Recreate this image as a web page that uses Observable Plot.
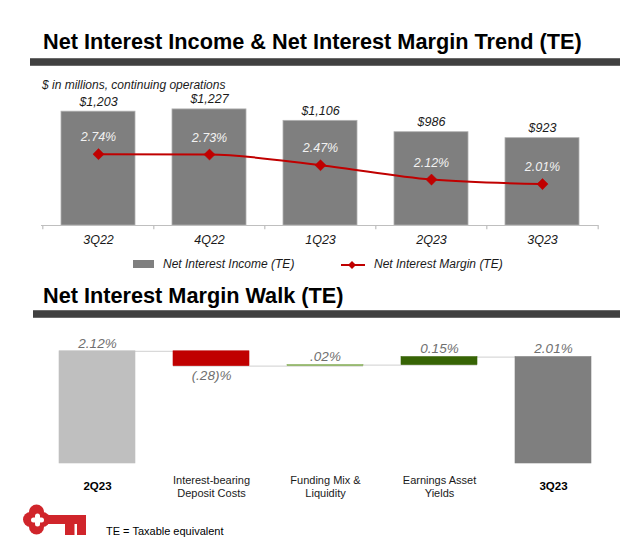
<!DOCTYPE html>
<html>
<head>
<meta charset="utf-8">
<script src="https://cdn.jsdelivr.net/npm/d3@7"></script>
<script src="https://cdn.jsdelivr.net/npm/@observablehq/plot@0.6"></script>
<style>
  html, body { margin: 0; padding: 0; background: #fff; }
  #page { position: relative; width: 640px; height: 553px; overflow: hidden; font-family: "Liberation Sans", Arial, sans-serif; color: #000; }
  .abs { position: absolute; white-space: nowrap; }
  .title { font-weight: bold; font-size: 21.7px; line-height: 24px; }
  .rule { background: #404040; border-top: 1px solid #6a6a6a; border-bottom: 1px solid #6a6a6a; box-sizing: border-box; }
  .it { font-style: italic; font-size: 12px; line-height: 14px; color: #1a1a1a; }
</style>
</head>
<body>
<div id="page">
  <div class="abs title" style="left:43px; top:30px;">Net Interest Income &amp; Net Interest Margin Trend (TE)</div>
  <div class="abs rule" style="left:30px; top:58px; width:590px; height:8px;"></div>
  <div class="abs it" style="left:42px; top:78px;">$ in millions, continuing operations</div>
  <div id="top" class="abs" style="left:0; top:90px;"></div>
  <div class="abs" style="left:133px; top:260px; width:21px; height:8px; background:#7f7f7f;"></div>
  <div class="abs it" style="left:163px; top:257px;">Net Interest Income (TE)</div>
  <svg class="abs" style="left:338px; top:258px;" width="30" height="14">
    <line x1="3" y1="7" x2="27" y2="7" stroke="#c00000" stroke-width="2"></line>
    <path d="M14,3 L18,7 L14,11 L10,7 Z" fill="#c00000"></path>
  </svg>
  <div class="abs it" style="left:374px; top:257px;">Net Interest Margin (TE)</div>

  <div class="abs title" style="left:43px; top:284px;">Net Interest Margin Walk (TE)</div>
  <div class="abs rule" style="left:33px; top:310px; width:587px; height:8px;"></div>
  <div id="walk" class="abs" style="left:0; top:325px;"></div>

  <svg class="abs" style="left:15px; top:500px;" width="80" height="50">
    <g fill="#d0252b">
      <circle cx="21.5" cy="19.5" r="10"></circle>
      <circle cx="15.5" cy="19.5" r="7.5"></circle>
      <circle cx="27.5" cy="19.5" r="7.5"></circle>
      <circle cx="21.5" cy="12" r="7.5"></circle>
      <circle cx="21.5" cy="27" r="7.5"></circle>
      <rect x="30" y="15" width="41" height="9"></rect>
      <rect x="50" y="23" width="9.5" height="12"></rect>
      <rect x="62" y="23" width="9" height="12"></rect>
    </g>
    <g fill="#fff">
      <rect x="16" y="17.5" width="13" height="5" rx="2.5"></rect>
      <rect x="20" y="13.5" width="5" height="13" rx="2.5"></rect>
    </g>
  </svg>
  <div class="abs" style="left:106px; top:524px; font-size:11px; line-height:14px; color:#000;">TE = Taxable equivalent</div>
</div>
<script>
// ---------- Data: top chart ----------
const quarters = ["3Q22", "4Q22", "1Q23", "2Q23", "3Q23"];
const netInterestIncome = [1203, 1227, 1106, 986, 923];          // $ millions
const nimValues = [2.74, 2.73, 2.47, 2.12, 2.01];                // %
const niiLabels = ["$1,203", "$1,227", "$1,106", "$986", "$923"];
const nimLabels = ["2.74%", "2.73%", "2.47%", "2.12%", "2.01%"];

// ---------- Data: waterfall ----------
const walkCategories = ["2Q23", "Interest-bearing\nDeposit Costs", "Funding Mix &\nLiquidity", "Earnings Asset\nYields", "3Q23"];
const walkValues = [2.12, -0.28, 0.02, 0.15, 2.01];
const walkLabels = ["2.12%", "(.28)%", ".02%", "0.15%", "2.01%"];
const walkIsTotal = [true, false, false, false, true];

// ---------- Styles ----------
const FONT = "Liberation Sans, Arial, sans-serif";
const walkFills = ["#bfbfbf", "#c00000", "#8cb35f", "#376405", "#7f7f7f"];

// ---------- Top chart ----------
const topData = quarters.map((q, i) => ({q, nii: netInterestIncome[i], nim: nimValues[i], niiLabel: niiLabels[i], nimLabel: nimLabels[i]}));
// secondary (NIM) axis mapped onto the primary y scale
const nimToY = d3.scaleLinear().domain([1, 4]).range([0, 1300]);

const W = 640, topH = 160, mL = 41, mR = 42;
const step = (W - mL - mR) / quarters.length;
const tickData = quarters.map((q, i) => ({q, dx: -step / 2})).concat([{q: quarters[quarters.length - 1], dx: step / 2}]);

const topPlot = Plot.plot({
  width: W, height: topH,
  marginLeft: mL, marginRight: mR, marginTop: 12, marginBottom: 25,
  style: {fontFamily: FONT, background: "transparent", overflow: "visible"},
  x: {domain: quarters, paddingInner: 0.336, paddingOuter: 0.168, axis: null},
  y: {domain: [0, 1300], axis: null},
  marks: [
    Plot.barY(topData, {x: "q", y: "nii", fill: "#7f7f7f", stroke: "#b0b0b0", strokeWidth: 0.8}),
    Plot.ruleY([0], {stroke: "#bfbfbf", strokeWidth: 1.2}),
    ...tickData.map(t => Plot.ruleX([t], {x: "q", y1: 0, y2: -45, dx: t.dx, stroke: "#bfbfbf", strokeWidth: 1.2})),
    Plot.text(topData, {x: "q", y: "nii", text: "niiLabel", dy: -10, fontSize: 12.5, fontStyle: "italic", fill: "#1a1a1a"}),
    Plot.line(topData, {x: "q", y: d => nimToY(d.nim), stroke: "#c00000", strokeWidth: 2, curve: "monotone-x"}),
    Plot.dot(topData, {x: "q", y: d => nimToY(d.nim), symbol: "diamond2", r: 5, fill: "#c00000", stroke: "#c00000", strokeWidth: 0.5}),
    Plot.text(topData, {x: "q", y: d => nimToY(d.nim), text: "nimLabel", dy: -17, fontSize: 12.5, fontStyle: "italic", fill: "#f2f2f2"}),
    Plot.text(topData, {x: "q", y: 0, text: "q", dy: 14, fontSize: 12.5, fontStyle: "italic", fill: "#1a1a1a"})
  ]
});
document.getElementById("top").appendChild(topPlot);

// ---------- Waterfall ----------
let level = 0;
const walk = walkCategories.map((c, i) => {
  let y1, y2;
  if (walkIsTotal[i]) { y1 = 0; y2 = walkValues[i]; }
  else { y1 = level; y2 = level + walkValues[i]; }
  level = y2;
  return {c, y1, y2, v: walkValues[i], label: walkLabels[i], fill: walkFills[i], total: walkIsTotal[i], top: Math.max(y1, y2), bottom: Math.min(y1, y2), end: y2};
});
const connectors = walk.slice(0, -1).map((d, i) => ({from: d.c, to: walk[i + 1].c, y: d.end}));

const walkH = 180, wL = 38, wR = 29;
const walkPlot = Plot.plot({
  width: W, height: walkH,
  marginLeft: wL, marginRight: wR, marginTop: 11, marginBottom: 42,
  style: {fontFamily: FONT, background: "transparent", overflow: "visible"},
  x: {domain: walkCategories, paddingInner: 0.337, paddingOuter: 0.1685, axis: null},
  y: {domain: [0, 2.4], axis: null},
  marks: [
    Plot.ruleY(connectors, {x1: "from", x2: "to", y: "y", stroke: "#d9d9d9", strokeWidth: 1.2}),
    Plot.rectY(walk, {x: "c", y1: "y1", y2: "y2", fill: d => d.fill, stroke: d => d.fill, strokeWidth: 0.6}),
    Plot.text(walk.filter(d => d.v >= 0), {x: "c", y: "top", text: "label", dy: -8, fontSize: 13.5, fontStyle: "italic", fill: "#6f6f6f"}),
    Plot.text(walk.filter(d => d.v < 0), {x: "c", y: "bottom", text: "label", dy: 10, fontSize: 13.5, fontStyle: "italic", fill: "#6f6f6f"}),
    Plot.text(walk.filter(d => d.total), {x: "c", y: 0, text: "c", dy: 23, fontSize: 11.5, fontWeight: "bold", fill: "#000"}),
    Plot.text(walk.filter(d => !d.total), {x: "c", y: 0, text: "c", dy: 23, fontSize: 11, lineHeight: 1.18, fill: "#1a1a1a"})
  ]
});
document.getElementById("walk").appendChild(walkPlot);
</script>
</body>
</html>
